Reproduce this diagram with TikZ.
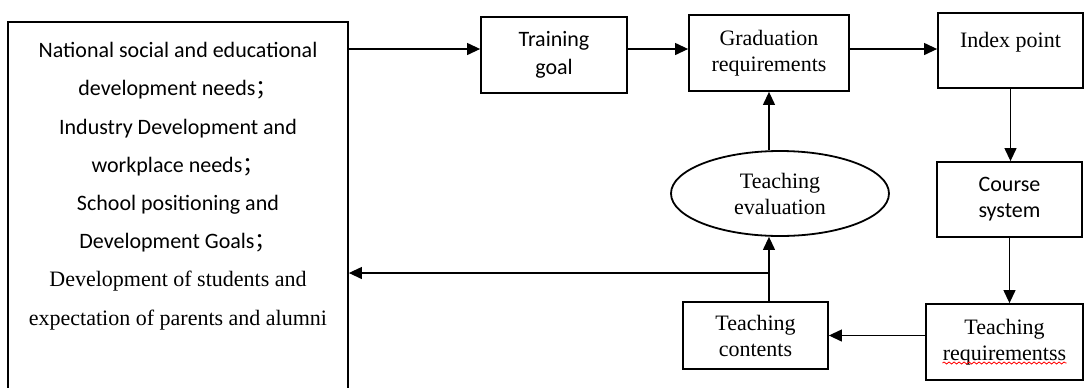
\documentclass[tikz,border=0pt]{standalone}
\usepackage{fontspec}
\setmainfont{Liberation Serif}
\setsansfont{Carlito}
\newfontfamily\cjk{Noto Sans CJK SC}
\usetikzlibrary{arrows.meta,shapes.geometric,decorations.pathmorphing}

\begin{document}
\begin{tikzpicture}[x=0.5pt,y=-0.5pt,
	box/.style={draw,line width=0.9pt,align=center,inner sep=0pt,font=\fontsize{11}{13}\selectfont},
	arr/.style={line width=0.6pt,-{Triangle[length=6.5pt,width=6pt]}}]
			\useasboundingbox (0,0) rectangle (1084,387);
			\coordinate (c0) at (178,221);
			\coordinate (c1) at (554,55);
			\coordinate (c2) at (769,53);
			\coordinate (c3) at (1010.5,50.5);
			\coordinate (c4) at (1009.5,199.5);
			\coordinate (c5) at (1004.5,342);
			\coordinate (c6) at (755.5,335.5);
			\coordinate (c7) at (780,193.5);
			\coordinate (ya) at (0,49);
			\coordinate (fb) at (769,273);
			
			\node (needs) at (c0) [box,minimum width=170pt,minimum height=199pt] {};
			\node (needstext) at (178,186) [align=center,font=\sffamily\fontsize{11}{19.1}\selectfont] {National social and educational\\ development needs{\cjk；}\\ Industry Development and\\ workplace needs{\cjk；}\\ School positioning and\\ Development Goals{\cjk；}\\ \rmfamily Development of students and\\ \rmfamily expectation of parents and alumni};
			
			\node (train) at (c1) [box,minimum width=73pt,minimum height=38pt,font=\sffamily\fontsize{11}{14}\selectfont] {Training\\ goal};
			\node (grad) at (c2) [box,minimum width=80pt,minimum height=38pt] {Graduation\\ requirements};
			\node (index) at (c3) [box,minimum width=72.5pt,minimum height=37.5pt] {\raisebox{4.25pt}[\height][\depth]{Index point}};
			\node (course) at (c4) [box,minimum width=72.5pt,minimum height=37.5pt,font=\sffamily\fontsize{11}{13}\selectfont] {Course\\ system};
			\node (req) at (c5) [box,minimum width=78.5pt,minimum height=38pt] {Teaching\\ requirementss};
			\node (contents) at (c6) [box,minimum width=72.5pt,minimum height=33.5pt] {Teaching\\ contents};
			\node (eval) at (c7) [box,ellipse,minimum width=109pt,minimum height=42.5pt] {Teaching\\ evaluation};
			
			\draw[arr] (needs.east |- ya) -- (train.west |- ya);
			\draw[arr] (train.east |- ya) -- (grad.west |- ya);
			\draw[arr] (grad.east |- ya) -- (index.west |- ya);
			\draw[arr] (index.south) -- (index.south |- course.north);
			\draw[arr] (course.south) -- (course.south |- req.north);
			\draw[arr] (req.west |- contents.east) -- (contents.east);
			\draw[arr] (contents.north -| fb) -- (eval.south -| fb);
			\draw[arr] (eval.north -| grad) -- (grad.south);
			\draw[arr] (fb) -- (needs.east |- fb);
			
			\draw[red,line width=0.4pt,decorate,decoration={snake,amplitude=0.5pt,segment length=2.5pt}] ([xshift=-31pt,yshift=-10.5pt]req.center) -- ([xshift=31pt,yshift=-10.5pt]req.center);
\end{tikzpicture}
\end{document}
